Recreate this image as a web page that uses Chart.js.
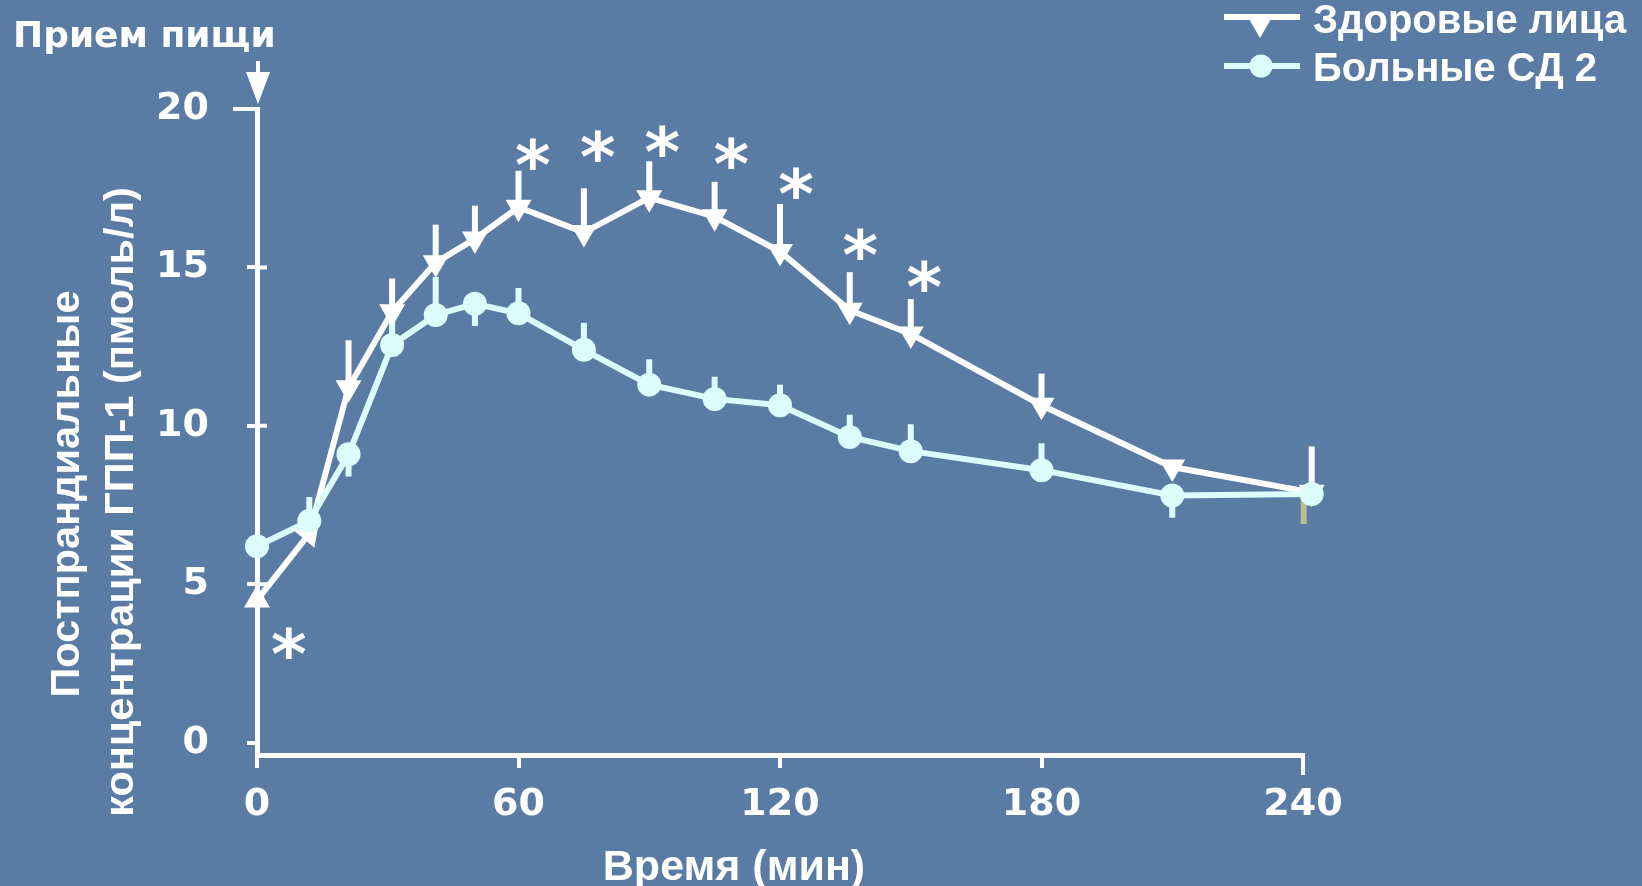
<!DOCTYPE html>
<html lang="ru">
<head>
<meta charset="utf-8">
<title>Постпрандиальные концентрации ГПП-1</title>
<script src="https://cdn.jsdelivr.net/npm/chart.js@4/dist/chart.umd.min.js"></script>
<style>
  html, body { margin: 0; padding: 0; background: #5a7ba3; overflow: hidden; }
  canvas { display: block; }
</style>
</head>
<body>
<canvas id="glp1" width="1642" height="886"></canvas>
<script>
// Sampling times, minutes after the meal
const times = [0, 12, 21, 31, 41, 50, 60, 75, 90, 105, 120, 136, 150, 180, 210, 242];

// Healthy subjects: mean GLP-1 (pmol/l) and upper SEM
const healthy      = [4.5, 6.6, 11.2, 13.6, 15.15, 15.9, 16.9, 16.1, 17.2, 16.6, 15.5, 13.65, 12.9, 10.65, 8.7, 7.9];
const healthyErrUp = [null, null, 1.5, 1.05, 1.2, 1.05, 1.15, 1.4, 1.15, 1.1, 1.5, 1.2, 1.1, 1.0, null, 1.45];

// Type 2 diabetes patients: mean GLP-1 (pmol/l) and SEM bars
const diabetic        = [6.2, 7.0, 9.1, 12.55, 13.5, 13.85, 13.55, 12.4, 11.3, 10.85, 10.65, 9.65, 9.2, 8.6, 7.8, 7.85];
const diabeticErrUp   = [null, 0.75, null, 1.05, 1.2, null, 0.8, 0.85, 0.8, 0.7, 0.65, 0.7, 0.85, 0.85, null, null];
const diabeticErrDown = [null, null, 0.7, null, null, 0.7, null, null, null, null, null, null, null, null, 0.7, 0.95];

// Axis ticks
const xTicks = [0, 60, 120, 180, 240];
const yTicks = [0, 5, 10, 15, 20];

// Significance marks (time, level)
const starTimes  = [7.3, 63.3, 78.2, 93, 108.8, 123.7, 138.4, 153.1];
const starLevels = [3.14, 18.58, 18.83, 19.0, 18.62, 17.65, 15.73, 14.72];

// Texts
const seriesNames = ['Здоровые лица', 'Больные СД 2'];
const xTitle = 'Время (мин)';
const yTitle = ['Постпрандиальные', 'концентрации ГПП-1 (пмоль/л)'];
const mealLabel = 'Прием пищи';

const WHITE = '#ffffff';
const CYAN = '#ddfdfd';
const BG = '#5a7ba3';
const VERDANA = '"DejaVu Sans", Verdana, sans-serif';
const ARIAL = '"Liberation Sans", Arial, sans-serif';
const AXIS_W = 5;

const toPoints = (ys) => times.map((t, i) => ({ x: t, y: ys[i] }));

// Vertical SEM bars, drawn beneath lines and markers
const errorBarPlugin = {
  id: 'errorBars',
  beforeDatasetsDraw(chart) {
    const { ctx, scales: { x, y } } = chart;
    ctx.save();
    ctx.lineWidth = 6;
    ctx.lineCap = 'butt';
    chart.data.datasets.forEach((ds) => {
      const eb = ds.errorBars;
      if (!eb) return;
      ds.data.forEach((p, i) => {
        const px = x.getPixelForValue(p.x);
        const py = y.getPixelForValue(p.y);
        const up = eb.up ? eb.up[i] : null;
        const down = eb.down ? eb.down[i] : null;
        if (up) {
          ctx.strokeStyle = eb.color;
          ctx.beginPath();
          ctx.moveTo(px, py);
          ctx.lineTo(px, y.getPixelForValue(p.y + up));
          ctx.stroke();
        }
        if (down) {
          ctx.strokeStyle = eb.downColor ? eb.downColor(i) : eb.color;
          const dx = eb.downShift ? eb.downShift(i) : 0;
          ctx.beginPath();
          ctx.moveTo(px + dx, py);
          ctx.lineTo(px + dx, y.getPixelForValue(p.y - down));
          ctx.stroke();
        }
      });
    });
    ctx.restore();
  }
};

function drawTriangleDown(ctx, cx, cy, r) {
  ctx.beginPath();
  for (let k = 0; k < 3; k++) {
    const a = Math.PI + k * 2 * Math.PI / 3;
    const px = cx + Math.sin(a) * r;
    const py = cy - Math.cos(a) * r;
    if (k === 0) ctx.moveTo(px, py); else ctx.lineTo(px, py);
  }
  ctx.closePath();
  ctx.fill();
}

// Titles, meal arrow, axis end caps, asterisks and the legend
const decorPlugin = {
  id: 'decor',
  beforeDraw(chart) {
    const { ctx, width, height } = chart;
    ctx.save();
    ctx.fillStyle = BG;
    ctx.fillRect(0, 0, width, height);
    ctx.restore();
  },
  afterDraw(chart) {
    const { ctx, chartArea: area, scales: { x, y } } = chart;
    ctx.save();
    ctx.fillStyle = WHITE;
    ctx.strokeStyle = WHITE;

    // tick marks crossing the y axis, longer cap at the top, longer end tick on x
    ctx.lineWidth = 4;
    ctx.beginPath();
    yTicks.forEach((v) => {
      if (v === 0 || v === yTicks[yTicks.length - 1]) return;
      const py = y.getPixelForValue(v);
      ctx.moveTo(area.left, py);
      ctx.lineTo(area.left + 10, py);
    });
    const topY = y.getPixelForValue(yTicks[yTicks.length - 1]);
    ctx.moveTo(area.left - 24, topY);
    ctx.lineTo(area.left, topY);
    const endX = x.getPixelForValue(xTicks[xTicks.length - 1]);
    ctx.moveTo(endX, area.bottom);
    ctx.lineTo(endX, area.bottom + 20);
    ctx.stroke();

    // meal label and arrow at t = 0
    ctx.font = 'bold 36px ' + VERDANA;
    ctx.textAlign = 'left';
    ctx.textBaseline = 'alphabetic';
    ctx.fillText(mealLabel, 13, 47);
    const ax = x.getPixelForValue(0) + 1;
    ctx.lineWidth = 4;
    ctx.beginPath();
    ctx.moveTo(ax, 61);
    ctx.lineTo(ax, 80);
    ctx.stroke();
    ctx.beginPath();
    ctx.moveTo(ax - 12, 72);
    ctx.lineTo(ax + 12, 72);
    ctx.lineTo(ax, 104);
    ctx.closePath();
    ctx.fill();

    // axis titles
    ctx.font = 'bold 43px ' + ARIAL;
    ctx.textAlign = 'center';
    ctx.fillText(xTitle, 734, 880);

    ctx.font = 'bold 41.5px ' + ARIAL;
    ctx.save();
    ctx.translate(79, 494);
    ctx.rotate(-Math.PI / 2);
    ctx.fillText(yTitle[0], 0, 0);
    ctx.restore();
    ctx.save();
    ctx.translate(133, 502);
    ctx.rotate(-Math.PI / 2);
    ctx.fillText(yTitle[1], 0, 0);
    ctx.restore();

    // asterisks
    ctx.font = 'bold 68px ' + VERDANA;
    const m = ctx.measureText('*');
    const mid = (m.actualBoundingBoxAscent - m.actualBoundingBoxDescent) / 2;
    ctx.textAlign = 'center';
    starTimes.forEach((t, i) => {
      ctx.fillText('*', x.getPixelForValue(t), y.getPixelForValue(starLevels[i]) + mid);
    });

    // legend
    const rows = [
      { ds: chart.data.datasets[0], ly: 17, my: 23, textY: 33 },
      { ds: chart.data.datasets[1], ly: 66, my: 66, textY: 81 }
    ];
    ctx.font = 'bold 40px ' + ARIAL;
    ctx.textAlign = 'left';
    rows.forEach((r) => {
      ctx.strokeStyle = r.ds.borderColor;
      ctx.fillStyle = r.ds.borderColor;
      ctx.lineWidth = 6;
      ctx.beginPath();
      ctx.moveTo(1224, r.ly);
      ctx.lineTo(1300, r.ly);
      ctx.stroke();
      if (r.ds.pointStyle === 'circle') {
        ctx.beginPath();
        ctx.arc(1261, r.my, 11.5, 0, Math.PI * 2);
        ctx.fill();
      } else {
        drawTriangleDown(ctx, 1260, r.my, 15);
      }
      ctx.fillStyle = WHITE;
      ctx.fillText(r.ds.label, 1313, r.textY);
    });
    ctx.restore();
  }
};

const tickFont = { family: VERDANA, size: 38, weight: 'bold' };

new Chart(document.getElementById('glp1'), {
  type: 'line',
  data: {
    datasets: [
      {
        label: seriesNames[0],
        data: toPoints(healthy),
        borderColor: WHITE,
        backgroundColor: WHITE,
        borderWidth: 6,
        pointStyle: 'triangle',
        pointRadius: 15,
        pointBorderWidth: 0,
        pointRotation: (c) => (c.dataIndex === 0 ? 0 : c.dataIndex === 1 ? 40 : 180),
        tension: 0,
        clip: false,
        order: 1,
        errorBars: { up: healthyErrUp, color: WHITE }
      },
      {
        label: seriesNames[1],
        data: toPoints(diabetic),
        borderColor: CYAN,
        backgroundColor: CYAN,
        borderWidth: 6,
        pointStyle: 'circle',
        pointRadius: 12,
        pointBorderWidth: 0,
        tension: 0,
        clip: false,
        order: 0,
        errorBars: {
          up: diabeticErrUp,
          down: diabeticErrDown,
          color: CYAN,
          downColor: (i) => (i === times.length - 1 ? '#b9bf8c' : CYAN),
          downShift: (i) => (i === times.length - 1 ? -8 : 0)
        }
      }
    ]
  },
  options: {
    responsive: false,
    animation: false,
    devicePixelRatio: 1,
    layout: { padding: { top: 109, right: 339, bottom: 0, left: 0 } },
    plugins: { legend: { display: false }, tooltip: { enabled: false } },
    scales: {
      x: {
        type: 'linear',
        min: 0,
        max: 240,
        afterBuildTicks: (s) => { s.ticks = xTicks.map((v) => ({ value: v })); },
        afterFit: (s) => { s.height = 131; },
        grid: { drawOnChartArea: false, drawTicks: true, tickLength: 13, color: WHITE, lineWidth: 4 },
        border: { display: true, color: WHITE, width: AXIS_W },
        ticks: { color: WHITE, font: tickFont, padding: 14, maxRotation: 0 }
      },
      y: {
        type: 'linear',
        min: -0.39,
        max: 20,
        afterBuildTicks: (s) => { s.ticks = yTicks.map((v) => ({ value: v })); },
        afterFit: (s) => { s.width = 257; },
        grid: { drawOnChartArea: false, drawTicks: true, tickLength: 10, color: WHITE, lineWidth: 4 },
        border: { display: true, color: WHITE, width: AXIS_W },
        ticks: { color: WHITE, font: tickFont, padding: 38 }
      }
    }
  },
  plugins: [errorBarPlugin, decorPlugin]
});
</script>
</body>
</html>
